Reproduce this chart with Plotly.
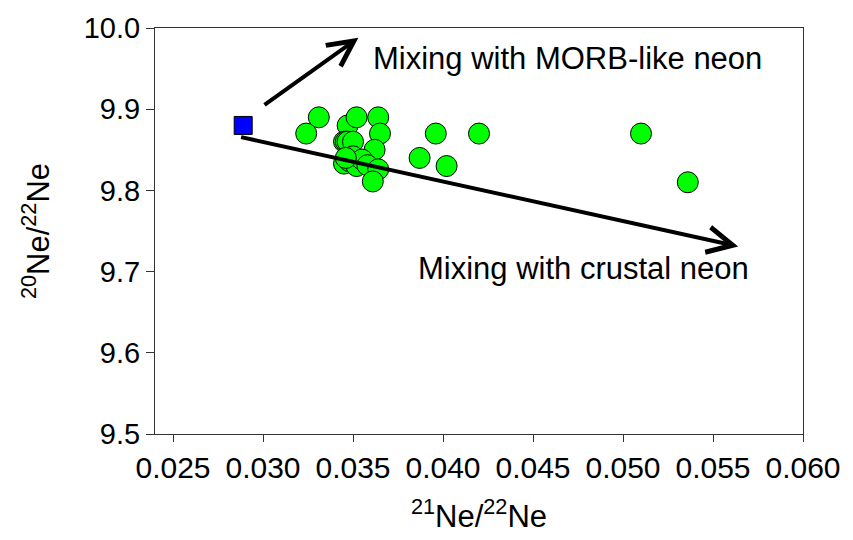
import plotly.graph_objects as go

# Data: 21Ne/22Ne (x) and 20Ne/22Ne (y)
sample_x = [0.0331, 0.0324, 0.0347, 0.0352, 0.0364, 0.0365,
            0.0345, 0.0346, 0.0347, 0.0350, 0.0362, 0.0350,
            0.0345, 0.0348, 0.0352, 0.0355, 0.0358, 0.0364, 0.0361, 0.0346,
            0.0387, 0.0402, 0.0396, 0.0420, 0.0510, 0.0536]
sample_y = [9.890, 9.870, 9.880, 9.890, 9.890, 9.870,
            9.860, 9.860, 9.860, 9.860, 9.850, 9.842,
            9.833, 9.836, 9.830, 9.838, 9.831, 9.826, 9.811, 9.840,
            9.840, 9.830, 9.870, 9.870, 9.870, 9.810]

endmember_x = [0.0289]
endmember_y = [9.880]

# Mixing arrows: tail (x0,y0) -> head (x1,y1)
arrow_labels = ["Mixing with MORB-like neon", "Mixing with crustal neon"]
arrow_x0 = [0.0300, 0.0287]
arrow_y0 = [9.904, 9.866]
arrow_x1 = [0.0353, 0.0564]
arrow_y1 = [9.988, 9.731]
label_x = [0.0360, 0.0385]
label_y = [9.962, 9.704]

x_ticks = [0.025, 0.030, 0.035, 0.040, 0.045, 0.050, 0.055, 0.060]
y_ticks = [9.5, 9.6, 9.7, 9.8, 9.9, 10.0]

FONT = "Liberation Sans, Arial, sans-serif"

fig = go.Figure()
fig.add_trace(go.Scatter(
    x=sample_x, y=sample_y, mode="markers",
    marker=dict(symbol="circle", size=21, color="#00FF00",
                line=dict(color="black", width=1)),
    showlegend=False, hoverinfo="x+y"))
fig.add_trace(go.Scatter(
    x=endmember_x, y=endmember_y, mode="markers",
    marker=dict(symbol="square", size=18, color="#0000FF",
                line=dict(color="black", width=1)),
    showlegend=False, hoverinfo="x+y"))

for i in range(len(arrow_labels)):
    fig.add_annotation(
        x=arrow_x1[i], y=arrow_y1[i], ax=arrow_x0[i], ay=arrow_y0[i],
        xref="x", yref="y", axref="x", ayref="y",
        text="", showarrow=True, arrowhead=5, arrowsize=1.25,
        arrowwidth=4, arrowcolor="black", standoff=0, startstandoff=0)
    fig.add_annotation(
        x=label_x[i], y=label_y[i], xref="x", yref="y",
        text=arrow_labels[i], showarrow=False, xanchor="left",
        yanchor="middle", font=dict(family=FONT, size=31, color="black"))

fig.update_layout(
    width=853, height=540,
    margin=dict(l=155, r=42, t=26, b=105),
    paper_bgcolor="white", plot_bgcolor="white",
    font=dict(family=FONT, color="black"),
)
fig.update_xaxes(
    range=[0.024, 0.060], tickvals=x_ticks, tickformat=".3f",
    ticks="outside", ticklen=7, tickwidth=1, tickcolor="#333",
    showline=True, linecolor="#333", linewidth=1, mirror=True,
    showgrid=False, zeroline=False,
    tickfont=dict(family=FONT, size=30, color="black"),
    title=dict(text="<sup>21</sup>Ne/<sup>22</sup>Ne",
               font=dict(family=FONT, size=31, color="black"), standoff=22))
fig.update_yaxes(
    range=[9.5, 10.0], tickvals=y_ticks, tickformat=".1f",
    ticks="outside", ticklen=8, tickwidth=1, tickcolor="#333",
    showline=True, linecolor="#333", linewidth=1, mirror=True,
    showgrid=False, zeroline=False,
    tickfont=dict(family=FONT, size=29, color="black"),
    title=dict(text="<sup>20</sup>Ne/<sup>22</sup>Ne",
               font=dict(family=FONT, size=31, color="black"), standoff=24))

fig.write_html("out.html")
